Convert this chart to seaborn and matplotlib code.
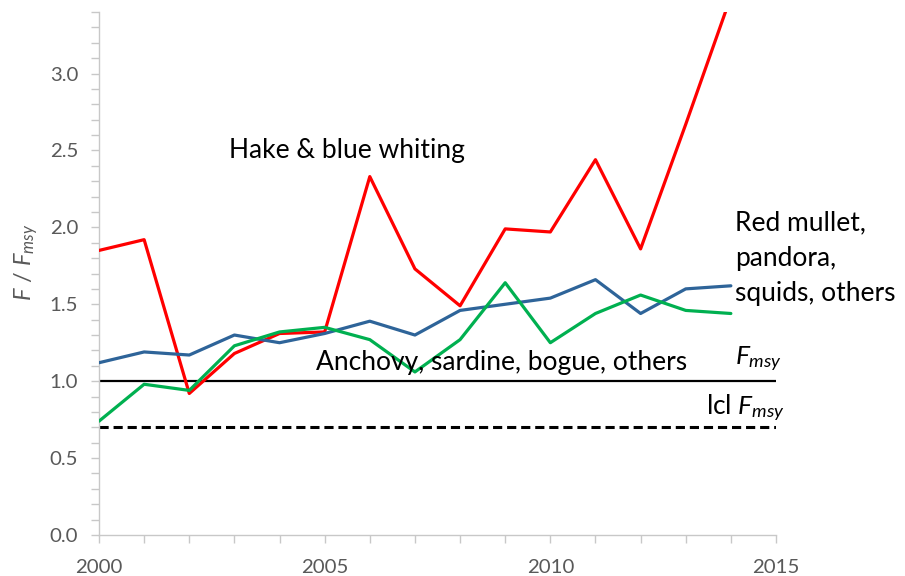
import numpy as np
import pandas as pd
import matplotlib
matplotlib.use('Agg')
import matplotlib.pyplot as plt
from matplotlib.ticker import MultipleLocator, FormatStrFormatter
import seaborn as sns

# données
years = list(range(2000, 2015))
hake = [1.85, 1.92, 0.92, 1.18, 1.31, 1.32, 2.33, 1.73, 1.49, 1.99, 1.97, 2.44, 1.86, 2.67, 3.50]
red_mullet = [1.12, 1.19, 1.17, 1.30, 1.25, 1.31, 1.39, 1.30, 1.46, 1.50, 1.54, 1.66, 1.44, 1.60, 1.62]
anchovy = [0.74, 0.98, 0.94, 1.23, 1.32, 1.35, 1.27, 1.06, 1.27, 1.64, 1.25, 1.44, 1.56, 1.46, 1.44]
fmsy = 1.0
lcl_fmsy = 0.7

series_names = ["Hake & blue whiting", "Red mullet, pandora, squids, others",
                "Anchovy, sardine, bogue, others"]
series_colors = ["#FF0000", "#2E6499", "#00B050"]

df = pd.DataFrame({
    "year": years * 3,
    "ratio": hake + red_mullet + anchovy,
    "group": sum([[n] * len(years) for n in series_names], []),
})

sns.set_style("ticks")
plt.rcParams['font.family'] = ['Lato', 'DejaVu Sans']
plt.rcParams['mathtext.fontset'] = 'custom'
plt.rcParams['mathtext.rm'] = 'Lato'
plt.rcParams['mathtext.it'] = 'Lato:italic'

fig = plt.figure(figsize=(9.05, 5.76), dpi=100)
ax = fig.add_axes([99 / 905, 1 - 535 / 576, 677 / 905, 523 / 576])

axis_grey = "#C8C8C8"
label_grey = "#595959"

ax.axhline(fmsy, color="black", lw=1.6, zorder=1)
ax.axhline(lcl_fmsy, color="black", lw=2.2, ls=(0, (3, 1.6)), zorder=1)

sns.lineplot(data=df, x="year", y="ratio", hue="group", hue_order=series_names,
             palette=series_colors, linewidth=2.3, legend=False, ax=ax, zorder=3)

ax.set_xlim(2000, 2015)
ax.set_ylim(0, 3.4)
ax.xaxis.set_major_locator(MultipleLocator(5))
ax.xaxis.set_minor_locator(MultipleLocator(1))
ax.yaxis.set_major_locator(MultipleLocator(0.5))
ax.yaxis.set_minor_locator(MultipleLocator(0.1))
ax.yaxis.set_major_formatter(FormatStrFormatter('%.1f'))

for side in ["top", "right"]:
    ax.spines[side].set_visible(False)
for side in ["left", "bottom"]:
    ax.spines[side].set_color(axis_grey)
    ax.spines[side].set_linewidth(1.0)

ax.tick_params(which="both", colors=axis_grey, labelcolor=label_grey, labelsize=14.7)
ax.tick_params(which="both", length=6, width=1.0)
ax.tick_params(axis="y", which="both", pad=9)
ax.tick_params(axis="x", which="both", pad=11)

ax.set_xlabel("")
ax.set_ylabel("$F$ / $F_{msy}$", color=label_grey, fontsize=17)
ax.yaxis.set_label_coords((40 - 99) / 677, (535 - 262) / 523)

txt = dict(fontsize=19, color="black", va="center", ha="left")
ax.text(2002.88, 2.50, "Hake & blue whiting", **txt)
ax.text(2004.81, 1.12, "Anchovy, sardine, bogue, others", **txt)
ax.text(2014.1, 1.80, "Red mullet,\npandora,\nsquids, others", linespacing=1.5, **txt)
ax.text(2014.1, 1.14, "$F_{msy}$", **txt)
ax.text(2013.45, 0.82, "lcl $F_{msy}$", **txt)

for t in ax.texts:
    t.set_clip_on(False)

fig.savefig("out.png", dpi=100)
